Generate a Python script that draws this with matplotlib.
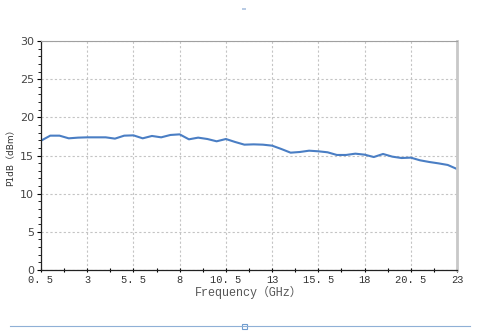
import matplotlib
matplotlib.use("Agg")
import matplotlib.pyplot as plt
from matplotlib.ticker import MultipleLocator, FixedLocator
from matplotlib.patches import Rectangle
from matplotlib.lines import Line2D

freq = [0.5, 1.0, 1.5, 2.0, 2.5, 3.0, 3.5, 4.0, 4.5, 5.0, 5.5, 6.0, 6.5, 7.0, 7.5, 8.0,
        8.5, 9.0, 9.5, 10.0, 10.5, 11.0, 11.5, 12.0, 12.5, 13.0, 13.5, 14.0, 14.5, 15.0,
        15.5, 16.0, 16.5, 17.0, 17.5, 18.0, 18.5, 19.0, 19.5, 20.0, 20.5, 21.0, 21.5,
        22.0, 22.5, 23.0]
p1db = [16.94, 17.60, 17.60, 17.25, 17.34, 17.38, 17.38, 17.38, 17.21, 17.60, 17.64,
        17.25, 17.56, 17.38, 17.69, 17.77, 17.12, 17.34, 17.16, 16.86, 17.16, 16.77,
        16.42, 16.46, 16.42, 16.29, 15.85, 15.37, 15.46, 15.63, 15.55, 15.42, 15.07,
        15.07, 15.24, 15.11, 14.80, 15.20, 14.85, 14.67, 14.72, 14.37, 14.15, 13.97,
        13.76, 13.23]
xticks = [0.5, 3, 5.5, 8, 10.5, 13, 15.5, 18, 20.5, 23]
xticklabels = ["0. 5", "3", "5. 5", "8", "10. 5", "13", "15. 5", "18", "20. 5", "23"]
yticks = [0, 5, 10, 15, 20, 25, 30]

fig = plt.figure(figsize=(4.79, 3.34), dpi=100)
ax = fig.add_axes([41/479, 1-270/334, 416/479, 229/334])

ax.plot(freq, p1db, color="#4a7ec4", lw=1.5, solid_joinstyle="round")
ax.set_xlim(0.5, 23)
ax.set_ylim(0, 30)
ax.set_xticks(xticks)
ax.set_xticklabels(xticklabels, fontsize=7.5, color="#333333",
                   family=["Liberation Mono", "Noto Sans CJK SC"])
ax.set_yticks(yticks)
ax.tick_params(axis="y", labelsize=8, labelcolor="#444444", length=3, width=0.8, direction="out", pad=2)
ax.yaxis.set_minor_locator(MultipleLocator(1))
ax.tick_params(axis="y", which="minor", length=2, width=0.6, direction="out")
ax.xaxis.set_minor_locator(FixedLocator([1.75 + 2.5*i for i in range(9)]))
ax.tick_params(axis="x", which="both", length=2.5, width=0.8, direction="inout", pad=2)

ax.grid(True, which="major", linestyle=(0, (2, 2)), color="#c4c4c4", lw=0.8)
ax.set_axisbelow(True)

for s in ["left", "bottom"]:
    ax.spines[s].set_color("#222222")
    ax.spines[s].set_linewidth(0.9)
ax.spines["top"].set_color("#a0a0a0")
ax.spines["top"].set_linewidth(0.8)
ax.spines["right"].set_color("#c8c8c8")
ax.spines["right"].set_linewidth(2.0)

ax.set_xlabel("Frequency（GHz）", fontsize=8.5, color="#555555",
              family=["Liberation Mono", "Noto Sans CJK SC"], labelpad=1)
ax.set_ylabel("P1dB（dBm）", fontsize=6.5, color="#333333",
              family=["DejaVu Sans", "Noto Sans CJK SC"], labelpad=3)

# document selection-frame decorations
fig.add_artist(Line2D([10/479, 470/479], [1-326/334, 1-326/334], color="#8fb0d6", lw=0.8))
fig.add_artist(Rectangle((242/479, 1-329/334), 5/479, 5/334, facecolor="white",
                         edgecolor="#6f9ccf", lw=0.8))
fig.add_artist(Rectangle((242/479, 1-10/334), 4/479, 2/334, facecolor="#b8cbe4",
                         edgecolor="none"))

fig.savefig("out.png", dpi=100)
